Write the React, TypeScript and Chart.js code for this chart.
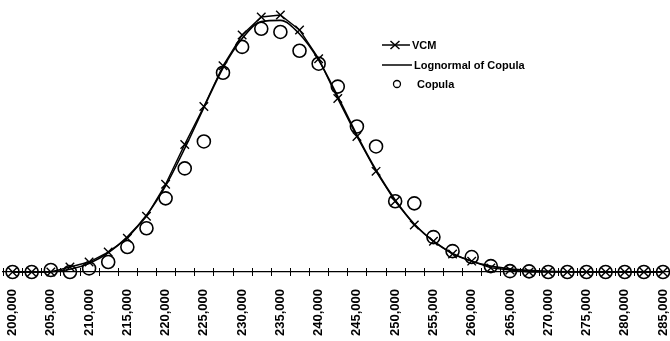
import React, { useEffect, useRef } from 'react';
import { Chart, registerables } from 'chart.js';

Chart.register(...registerables);

// x categories (every 2,500)
const categories: number[] = [
  200000, 202500, 205000, 207500, 210000, 212500, 215000, 217500, 220000, 222500,
  225000, 227500, 230000, 232500, 235000, 237500, 240000, 242500, 245000, 247500,
  250000, 252500, 255000, 257500, 260000, 262500, 265000, 267500, 270000, 272500,
  275000, 277500, 280000, 282500, 285000,
];

const vcm: number[] = [
  0, 0, 0, 0.0022, 0.0044, 0.0088, 0.0149, 0.0246, 0.0387, 0.0563,
  0.0730, 0.0910, 0.1046, 0.1125, 0.1134, 0.1068, 0.0941, 0.0765, 0.0598, 0.0444,
  0.0312, 0.0207, 0.0136, 0.0079, 0.0048, 0.0018, 0.0009, 0, 0, 0,
  0, 0, 0, 0, 0,
];

const lognormalCopula: number[] = [
  0, 0, 0.0001, 0.0012, 0.0038, 0.0085, 0.0155, 0.0250, 0.0380, 0.0545,
  0.0725, 0.0900, 0.1030, 0.1105, 0.1110, 0.1050, 0.0935, 0.0775, 0.0605, 0.0450,
  0.0318, 0.0212, 0.0135, 0.0082, 0.0047, 0.0026, 0.0014, 0.0007, 0.0003, 0.0001,
  0, 0, 0, 0, 0,
];

const copula: number[] = [
  0, 0, 0.0009, 0, 0.0016, 0.0044, 0.0110, 0.0193, 0.0325, 0.0457,
  0.0576, 0.0879, 0.0993, 0.1073, 0.1059, 0.0976, 0.0919, 0.0818, 0.0642, 0.0554,
  0.0312, 0.0303, 0.0154, 0.0092, 0.0066, 0.0026, 0.0004, 0.0003, 0, 0,
  0, 0, 0, 0, 0,
];

const seriesNames = ['VCM', 'Lognormal of Copula', 'Copula'];

const fmt = (n: number) => n.toLocaleString('en-US');

const FONT = '"Liberation Sans", Arial, sans-serif';

const axisCrossPlugin = {
  id: 'axisCross',
  afterDatasetsDraw(chart: any) {
    const xs = chart.scales.x;
    const { ctx, chartArea } = chart;
    const step = xs.getPixelForValue(1) - xs.getPixelForValue(0);
    const x0 = xs.getPixelForValue(0);
    ctx.save();
    ctx.strokeStyle = '#000';
    ctx.lineWidth = 1;
    for (let i = 0; i <= categories.length; i++) {
      const x = Math.round(x0 + (i - 0.5) * step) + 0.5;
      ctx.beginPath();
      ctx.moveTo(x, chartArea.bottom - 4);
      ctx.lineTo(x, chartArea.bottom + 4);
      ctx.stroke();
    }
    ctx.restore();
  },
};

const legendPlugin = {
  id: 'customLegend',
  afterDraw(chart: any) {
    const { ctx, chartArea } = chart;
    const x0 = chartArea.left + (chartArea.right - chartArea.left) * 0.566;
    const rows = [45, 65, 84];
    ctx.save();
    ctx.strokeStyle = '#000';
    ctx.fillStyle = '#000';
    ctx.font = `bold 11px ${FONT}`;
    ctx.textBaseline = 'middle';
    // VCM
    ctx.lineWidth = 1.5;
    ctx.beginPath();
    ctx.moveTo(x0, rows[0]);
    ctx.lineTo(x0 + 28, rows[0]);
    ctx.stroke();
    const mx = x0 + 13;
    ctx.beginPath();
    ctx.moveTo(mx - 4.5, rows[0] - 4);
    ctx.lineTo(mx + 4.5, rows[0] + 4);
    ctx.moveTo(mx - 4.5, rows[0] + 4);
    ctx.lineTo(mx + 4.5, rows[0] - 4);
    ctx.stroke();
    ctx.fillText(chart.data.datasets[0].label, x0 + 30, rows[0] + 0.5);
    // Lognormal
    ctx.beginPath();
    ctx.moveTo(x0, rows[1]);
    ctx.lineTo(x0 + 30, rows[1]);
    ctx.stroke();
    ctx.fillText(chart.data.datasets[1].label, x0 + 32, rows[1] + 0.5);
    // Copula
    ctx.lineWidth = 1.3;
    ctx.beginPath();
    ctx.arc(x0 + 15, rows[2], 3.5, 0, Math.PI * 2);
    ctx.stroke();
    ctx.fillText(chart.data.datasets[2].label, x0 + 35, rows[2] + 0.5);
    ctx.restore();
  },
};

export default function App() {
  const ref = useRef<HTMLCanvasElement | null>(null);

  useEffect(() => {
    if (!ref.current) return;
    const chart = new Chart(ref.current, {
      type: 'line',
      data: {
        labels: categories.map(fmt),
        datasets: [
          {
            label: seriesNames[0],
            data: vcm,
            borderColor: '#000',
            backgroundColor: 'transparent',
            borderWidth: 1.4,
            pointStyle: 'crossRot',
            pointRadius: 6,
            pointBorderWidth: 1.4,
            pointBorderColor: '#000',
            tension: 0,
            clip: false,
          } as any,
          {
            label: seriesNames[1],
            data: lognormalCopula,
            borderColor: '#000',
            backgroundColor: 'transparent',
            borderWidth: 1.6,
            pointRadius: 0,
            tension: 0.4,
            cubicInterpolationMode: 'monotone',
            clip: false,
          } as any,
          {
            label: seriesNames[2],
            data: copula,
            showLine: false,
            borderColor: '#000',
            backgroundColor: 'transparent',
            pointStyle: 'circle',
            pointRadius: 6.5,
            pointBorderWidth: 1.6,
            pointBorderColor: '#000',
            pointBackgroundColor: 'transparent',
            clip: false,
          } as any,
        ],
      },
      options: {
        animation: false,
        responsive: false,
        maintainAspectRatio: false,
        layout: { autoPadding: false, padding: { left: 3, right: 0, top: 0, bottom: 5 } },
        plugins: {
          legend: { display: false },
          tooltip: { enabled: false },
        },
        scales: {
          x: {
            type: 'category',
            offset: true,
            grid: {
              display: true,
              offset: true,
              drawOnChartArea: false,
              drawTicks: true,
              tickLength: 17,
              color: 'rgba(0,0,0,0)',
              lineWidth: 1,
            },
            border: { display: true, color: '#000', width: 1.3 },
            ticks: {
              autoSkip: false,
              maxRotation: 90,
              minRotation: 90,
              padding: 0,
              color: '#000',
              font: { family: FONT, size: 13, weight: 'bold', lineHeight: 1 },
              callback: (_v: any, i: number) => (i % 2 === 0 ? fmt(categories[i]) : ''),
            },
          },
          y: {
            display: false,
            min: 0,
            max: 0.12,
          },
        },
      } as any,
      plugins: [axisCrossPlugin, legendPlugin],
    });
    return () => chart.destroy();
  }, []);

  return (
    <div style={{ position: 'fixed', left: 0, top: 0, width: 670, height: 341, overflow: 'hidden', background: '#fff' }}>
      <canvas ref={ref} width={676} height={341} style={{ width: 676, height: 341, display: 'block' }} />
    </div>
  );
}
